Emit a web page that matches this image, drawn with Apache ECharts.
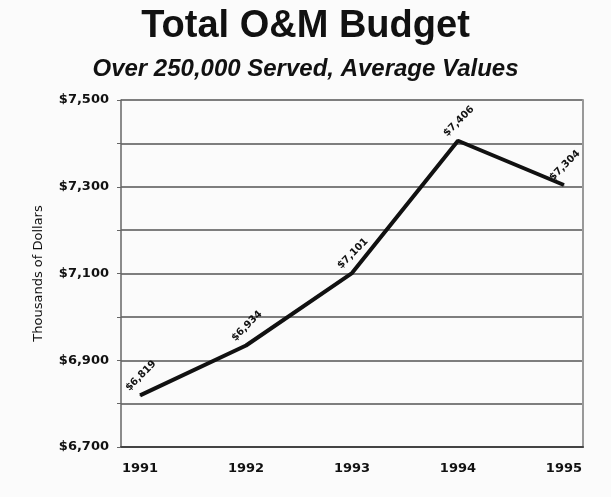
<!DOCTYPE html>
<html>
<head>
<meta charset="utf-8">
<script src="https://cdn.jsdelivr.net/npm/echarts@6/dist/echarts.min.js"></script>
<style>
  html, body { margin: 0; padding: 0; background: #fbfbfb; }
  #chart { width: 611px; height: 497px; }
</style>
</head>
<body>
<div id="chart"></div>
<script>
var years = [1991, 1992, 1993, 1994, 1995];
var budget = [6819, 6934, 7101, 7406, 7304];
var yLabels = [6700, 6900, 7100, 7300, 7500];

function money(v) {
  return "$" + v.toLocaleString("en-US");
}

var chart = echarts.init(document.getElementById("chart"));

var option = {
  backgroundColor: "#fbfbfb",
  textStyle: { fontFamily: "DejaVu Sans, sans-serif" },
  title: [
    {
      text: "Total O&M Budget",
      left: "center",
      top: 3,
      textStyle: { fontFamily: "Liberation Sans, Arial, sans-serif", fontSize: 38, fontWeight: "bold", color: "#111" }
    },
    {
      text: "Over 250,000 Served, Average Values",
      left: "center",
      top: 52,
      textStyle: { fontFamily: "Liberation Sans, Arial, sans-serif", fontSize: 24, fontWeight: "bold", fontStyle: "italic", color: "#111" }
    }
  ],
  grid: { left: 121, right: 28, top: 100, bottom: 50 },
  xAxis: {
    type: "value",
    min: 1990.82,
    max: 1995.18,
    axisLine: { show: true, lineStyle: { color: "#444", width: 2 } },
    axisTick: { show: false },
    splitLine: { show: false },
    axisLabel: {
      customValues: years,
      formatter: function (v) { return String(v); },
      fontSize: 13,
      fontWeight: "bold",
      color: "#111",
      margin: 15
    }
  },
  yAxis: [
    {
      type: "value",
      min: 6700,
      max: 7500,
      interval: 100,
      name: "Thousands of Dollars",
      nameLocation: "middle",
      nameGap: 76,
      nameTextStyle: { fontSize: 13, color: "#111" },
      axisLine: { show: true, lineStyle: { color: "#666", width: 1.5 } },
      axisTick: { show: true, length: 4, lineStyle: { color: "#666" } },
      splitLine: { show: true, lineStyle: { color: "#555", width: 1.5 } },
      axisLabel: {
        customValues: yLabels,
        formatter: function (v) { return money(v); },
        fontSize: 13,
        fontWeight: "bold",
        color: "#111",
        margin: 12
      }
    },
    {
      type: "value",
      min: 6700,
      max: 7500,
      position: "right",
      axisLine: { show: true, lineStyle: { color: "#999", width: 2 } },
      axisTick: { show: false },
      axisLabel: { show: false },
      splitLine: { show: false }
    }
  ],
  series: [
    {
      type: "line",
      data: years.map(function (y, i) { return [y, budget[i]]; }),
      symbol: "circle",
      symbolSize: 1,
      showSymbol: true,
      itemStyle: { color: "#111" },
      lineStyle: { color: "#111", width: 4 },
      label: {
        show: true,
        position: "top",
        rotate: 45,
        distance: 11,
        offset: [-13, 0],
        align: "left",
        verticalAlign: "bottom",
        fontSize: 10,
        fontWeight: "bold",
        color: "#111",
        formatter: function (p) { return money(p.value[1]); }
      }
    }
  ]
};

chart.setOption(option);
</script>
</body>
</html>
